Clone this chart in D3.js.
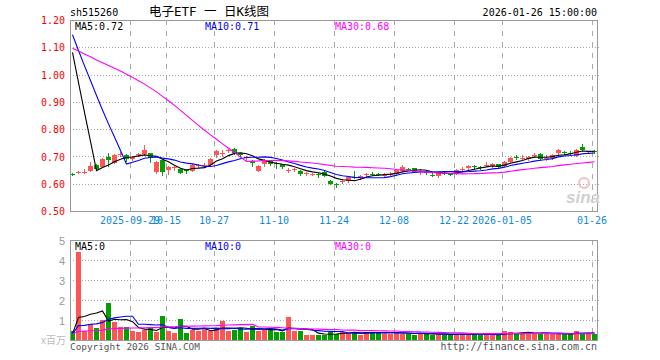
<!DOCTYPE html>
<html><head><meta charset="utf-8">
<script src="https://cdn.jsdelivr.net/npm/d3@7"></script>
<style>
html,body{margin:0;padding:0;background:#fff;}
svg{display:block;}
text{font-family:"DejaVu Sans Mono",monospace;}
</style></head>
<body><svg id="c" width="660" height="360"></svg>
<script>
const dates = [
"2025-09-15","2025-09-16","2025-09-17","2025-09-18","2025-09-19","2025-09-22","2025-09-23","2025-09-24","2025-09-25","2025-09-26",
"2025-09-29","2025-09-30","2025-10-09","2025-10-10","2025-10-13","2025-10-14","2025-10-15","2025-10-16","2025-10-17","2025-10-20",
"2025-10-21","2025-10-22","2025-10-23","2025-10-24","2025-10-27","2025-10-28","2025-10-29","2025-10-30","2025-10-31","2025-11-03",
"2025-11-04","2025-11-05","2025-11-06","2025-11-07","2025-11-10","2025-11-11","2025-11-12","2025-11-13","2025-11-14","2025-11-17",
"2025-11-18","2025-11-19","2025-11-20","2025-11-21","2025-11-24","2025-11-25","2025-11-26","2025-11-27","2025-11-28","2025-12-01",
"2025-12-02","2025-12-03","2025-12-04","2025-12-05","2025-12-08","2025-12-09","2025-12-10","2025-12-11","2025-12-12","2025-12-15",
"2025-12-16","2025-12-17","2025-12-18","2025-12-19","2025-12-22","2025-12-23","2025-12-24","2025-12-25","2025-12-26","2025-12-29",
"2025-12-30","2025-12-31","2026-01-05","2026-01-06","2026-01-07","2026-01-08","2026-01-09","2026-01-12","2026-01-13","2026-01-14",
"2026-01-15","2026-01-16","2026-01-19","2026-01-20","2026-01-21","2026-01-22","2026-01-23","2026-01-26"];

const open = [
0.638,0.642,0.644,0.650,0.671,0.664,0.701,0.679,0.709,0.707,
0.692,0.708,0.710,0.713,0.643,0.689,0.650,0.660,0.656,0.651,
0.650,0.667,0.668,0.671,0.704,0.712,0.722,0.728,0.713,0.698,
0.686,0.650,0.674,0.684,0.678,0.673,0.651,0.654,0.650,0.639,
0.636,0.638,0.645,0.612,0.601,0.611,0.612,0.627,0.627,0.636,
0.639,0.638,0.633,0.637,0.638,0.650,0.657,0.659,0.646,0.644,
0.635,0.628,0.641,0.639,0.638,0.654,0.659,0.665,0.663,0.670,
0.664,0.673,0.667,0.681,0.699,0.694,0.692,0.706,0.710,0.694,
0.695,0.716,0.718,0.714,0.704,0.738,0.718,0.720];
const close = [
0.636,0.644,0.646,0.667,0.657,0.692,0.689,0.707,0.711,0.692,
0.699,0.710,0.726,0.695,0.681,0.646,0.662,0.662,0.643,0.649,
0.671,0.669,0.672,0.692,0.720,0.714,0.726,0.713,0.704,0.700,
0.679,0.668,0.686,0.674,0.676,0.661,0.653,0.656,0.638,0.641,
0.638,0.636,0.632,0.602,0.599,0.613,0.626,0.625,0.629,0.638,
0.637,0.636,0.635,0.639,0.652,0.664,0.655,0.646,0.648,0.642,
0.633,0.644,0.639,0.637,0.652,0.656,0.667,0.663,0.660,0.672,
0.673,0.662,0.683,0.695,0.697,0.696,0.701,0.708,0.693,0.696,
0.707,0.726,0.716,0.712,0.726,0.728,0.720,0.718];
const high = [
0.642,0.648,0.655,0.680,0.675,0.695,0.713,0.710,0.718,0.712,
0.702,0.715,0.744,0.716,0.684,0.690,0.665,0.668,0.658,0.655,
0.674,0.675,0.676,0.695,0.724,0.724,0.730,0.732,0.716,0.703,
0.689,0.670,0.692,0.688,0.680,0.675,0.658,0.661,0.653,0.645,
0.642,0.640,0.648,0.615,0.604,0.618,0.630,0.650,0.634,0.642,
0.645,0.641,0.640,0.644,0.654,0.670,0.660,0.661,0.652,0.648,
0.640,0.646,0.645,0.641,0.655,0.662,0.670,0.670,0.665,0.680,
0.676,0.675,0.685,0.698,0.706,0.706,0.705,0.714,0.714,0.706,
0.710,0.728,0.722,0.720,0.728,0.748,0.723,0.724];
const low = [
0.633,0.640,0.642,0.648,0.655,0.662,0.667,0.676,0.703,0.685,
0.690,0.704,0.708,0.680,0.640,0.635,0.636,0.652,0.640,0.642,
0.648,0.664,0.664,0.669,0.700,0.705,0.718,0.710,0.700,0.690,
0.665,0.648,0.665,0.671,0.660,0.658,0.645,0.650,0.635,0.635,
0.633,0.628,0.630,0.600,0.590,0.606,0.609,0.622,0.620,0.630,
0.633,0.633,0.630,0.634,0.635,0.648,0.652,0.644,0.638,0.638,
0.630,0.625,0.636,0.634,0.636,0.650,0.656,0.660,0.657,0.666,
0.662,0.660,0.665,0.679,0.692,0.690,0.688,0.702,0.690,0.690,
0.693,0.705,0.712,0.708,0.702,0.726,0.715,0.716];
const volume = [
0.50,4.42,0.50,0.83,0.62,1.03,1.87,0.95,0.70,0.70,
0.50,0.42,0.53,0.62,0.42,1.25,0.47,0.37,1.10,0.37,
0.53,0.47,0.58,0.50,0.57,1.00,0.47,0.53,0.63,0.42,
0.75,0.50,0.53,0.53,0.42,0.42,1.20,0.47,0.47,0.30,
0.30,0.30,0.25,0.43,0.35,0.45,0.40,0.42,0.30,0.40,
0.42,0.42,0.35,0.35,0.42,0.35,0.35,0.28,0.35,0.35,
0.30,0.28,0.28,0.28,0.35,0.35,0.32,0.35,0.28,0.28,
0.28,0.28,0.50,0.45,0.32,0.40,0.40,0.32,0.40,0.32,
0.32,0.32,0.32,0.32,0.50,0.32,0.40,0.32];
const priorCloses = [
0.96,0.97,0.98,0.99,1.00,1.00,1.01,1.02,1.03,1.05,
1.08,1.10,1.11,1.12,1.14,1.15,
1.17,1.19,1.20,1.21,1.22,1.21,1.20,1.21,1.22,
1.20,1.19,1.20,1.19];
const priorVolumes = [
0.35,0.30,0.32,0.36,0.30,0.34,0.31,0.33,0.35,0.30,
0.32,0.34,0.36,0.31,0.33,0.30,0.35,0.32,0.34,0.33,
0.30,0.35,0.30,0.40,0.30,
0.30,0.25,0.30,0.30];

const priceTicks = [1.20,1.10,1.00,0.90,0.80,0.70,0.60,0.50];
const volTicks = [5,4,3,2,1];
const xTickDates = ["2025-09-29","2025-10-15","2025-10-27","2025-11-10","2025-11-24","2025-12-08","2025-12-22","2026-01-05","2026-01-26"];
const xTickLabels = ["2025-09-29","10-15","10-27","11-10","11-24","12-08","12-22","2026-01-05","01-26"];
const maPeriods = [5,10,30];
const maColors = ["#000000","#0000ff","#ff00ff"];
const priceLegend = ["MA5:0.72","MA10:0.71","MA30:0.68"];
const volLegend = ["MA5:0","MA10:0","MA30:0"];

const UP = "#ff5555", DOWN = "#00a000", GRID = "#aaaaaa", FRAME = "#999999";
const L = 70, R = 597, T1 = 20, B1 = 211, T2 = 240, B2 = 340;

const svg = d3.select("#c");
svg.append("rect").attr("width",660).attr("height",360).attr("fill","#fff");

const x = d3.scaleBand().domain(dates).range([L-1, R]).paddingInner(0).paddingOuter(0);
const cx = d => x(d) + 3.5;
const gx = d => x(d) + 1.5;
const y = d3.scaleLinear().domain([0.5,1.2]).range([B1+0.5, T1+0.5]);
const yv = d3.scaleLinear().domain([0,5]).range([B2+0.5, T2+0.5]);

function movingAvg(prior, vals, n){
  const all = prior.concat(vals);
  return vals.map((v,i)=>{
    const end = prior.length + i;
    return d3.mean(all.slice(end-n+1, end+1));
  });
}

// ---- grids ----
const grid = svg.append("g");
function hGrid(scale, vals){
  grid.selectAll(null).data(vals).enter().append("line")
    .attr("x1",L).attr("x2",600)
    .attr("y1",d=>Math.round(scale(d)-0.5)+0.5).attr("y2",d=>Math.round(scale(d)-0.5)+0.5)
    .attr("stroke",GRID).attr("stroke-dasharray","1,2").attr("shape-rendering","crispEdges");
}
hGrid(y, priceTicks.slice(1,-1));
hGrid(yv, volTicks.slice(1));
[[T1,B1],[T2,B2]].forEach(([t,b])=>{
  grid.selectAll(null).data(xTickDates).enter().append("line")
    .attr("x1",gx).attr("x2",gx).attr("y1",t).attr("y2",b)
    .attr("stroke",GRID).attr("stroke-dasharray","5,6").attr("shape-rendering","crispEdges");
});

// ---- frames ----
svg.append("rect").attr("x",L+0.5).attr("y",T1+0.5).attr("width",R-L).attr("height",B1-T1)
  .attr("fill","none").attr("stroke",FRAME).attr("shape-rendering","crispEdges");
svg.append("rect").attr("x",L+0.5).attr("y",T2+0.5).attr("width",R-L).attr("height",B2-T2)
  .attr("fill","none").attr("stroke",FRAME).attr("shape-rendering","crispEdges");

// ---- axes ----
const yAxis = d3.axisLeft(y).tickValues(priceTicks).tickFormat(d3.format(".2f")).tickSize(0).tickPadding(4);
const ya = svg.append("g").attr("transform",`translate(${L-1},0)`).call(yAxis);
ya.select(".domain").remove();
ya.selectAll("text").attr("fill","#ff0000").style("font-family","DejaVu Sans Mono").style("font-size","10px");

const vAxis = d3.axisLeft(yv).tickValues(volTicks).tickFormat(d3.format("d")).tickSize(0).tickPadding(4);
const va = svg.append("g").attr("transform",`translate(${L-1},0)`).call(vAxis);
va.select(".domain").remove();
va.selectAll("text").attr("fill","#999").style("font-family","Liberation Sans").style("font-size","11px");

const xAxis = d3.axisBottom(x).tickValues(xTickDates)
  .tickFormat(d=>xTickLabels[xTickDates.indexOf(d)]).tickSize(0).tickPadding(6);
const xa = svg.append("g").attr("transform",`translate(${-2},${B1})`).call(xAxis);
xa.select(".domain").remove();
xa.selectAll("text").attr("fill","#1188dd").style("font-family","DejaVu Sans Mono").style("font-size","10px");

// ---- clip ----
svg.append("clipPath").attr("id","cp1").append("rect").attr("x",L+1).attr("y",T1+1).attr("width",R-L-1).attr("height",B1-T1-1);
svg.append("clipPath").attr("id","cp2").append("rect").attr("x",L+1).attr("y",T2+1).attr("width",R-L-1).attr("height",B2-T2-1);

// ---- candles ----
const idx = d3.range(dates.length);
const color = i => close[i] >= open[i] ? UP : DOWN;
const cg = svg.append("g").attr("clip-path","url(#cp1)");
cg.selectAll("line.w").data(idx).enter().append("line")
  .attr("x1",i=>cx(dates[i])).attr("x2",i=>cx(dates[i]))
  .attr("y1",i=>Math.round(y(high[i]))).attr("y2",i=>Math.round(y(low[i]))+1)
  .attr("stroke",color).attr("shape-rendering","crispEdges");
cg.selectAll("rect.b").data(idx).enter().append("rect")
  .attr("x",i=>x(dates[i])+1).attr("width",5)
  .attr("y",i=>Math.round(y(Math.max(open[i],close[i]))))
  .attr("height",i=>Math.max(1, Math.round(Math.abs(y(open[i])-y(close[i])))))
  .attr("fill",color).attr("shape-rendering","crispEdges");

// ---- price MAs ----
const mg = svg.append("g").attr("clip-path","url(#cp1)");
maPeriods.forEach((n,k)=>{
  const ma = movingAvg(priorCloses, close, n);
  mg.append("path").datum(ma)
    .attr("d", d3.line().x((v,i)=>cx(dates[i])).y(v=>y(v)))
    .attr("fill","none").attr("stroke",maColors[k]).attr("stroke-width",1.1);
});

// ---- volume ----
const vg = svg.append("g").attr("clip-path","url(#cp2)");
vg.selectAll("rect").data(idx).enter().append("rect")
  .attr("x",i=>x(dates[i])+1).attr("width",5)
  .attr("y",i=>Math.round(yv(volume[i])))
  .attr("height",i=>B2+1-Math.round(yv(volume[i])))
  .attr("fill",color).attr("shape-rendering","crispEdges");
maPeriods.forEach((n,k)=>{
  const ma = movingAvg(priorVolumes, volume, n);
  vg.append("path").datum(ma)
    .attr("d", d3.line().x((v,i)=>cx(dates[i])).y(v=>yv(v)))
    .attr("fill","none").attr("stroke",maColors[k]).attr("stroke-width",1.1);
});

// ---- watermark ----
svg.append("text").attr("x",583).attr("y",203).attr("text-anchor","middle")
  .style("font-family","Liberation Sans").style("font-size","17px").style("font-style","italic").style("font-weight","bold")
  .attr("fill","#d0d0d0").text("sina");
svg.append("circle").attr("cx",584).attr("cy",183).attr("r",5).attr("fill","none").attr("stroke","#f3c0c0").attr("stroke-width",2);

// ---- texts ----
const tx = (xp,yp,s,opts={})=>svg.append("text").attr("x",xp).attr("y",yp)
  .attr("text-anchor",opts.anchor||"start").attr("fill",opts.fill||"#000")
  .style("font-family",opts.font||"DejaVu Sans Mono").style("font-size",(opts.size||10)+"px").text(s);
tx(70,16,"sh515260");
tx(209,16,"电子ETF 一 日K线图",{anchor:"middle",size:12.5,font:"DejaVu Sans Mono, Noto Sans CJK SC"});
tx(597,16,"2026-01-26 15:00:00",{anchor:"end"});
const legX = [75,205,335];
priceLegend.forEach((s,k)=>tx(legX[k],29.5,s,{fill:maColors[k]}));
volLegend.forEach((s,k)=>tx(legX[k],249.5,s,{fill:maColors[k]}));
tx(66,344,"x百万",{anchor:"end",fill:"#bbb",font:"Noto Sans CJK SC",size:10});
tx(70,350,"Copyright 2026 SINA.COM",{fill:"#555",size:9.4});
tx(597,350,"http://finance.sina.com.cn",{anchor:"end",fill:"#555"});
</script>
</body></html>
